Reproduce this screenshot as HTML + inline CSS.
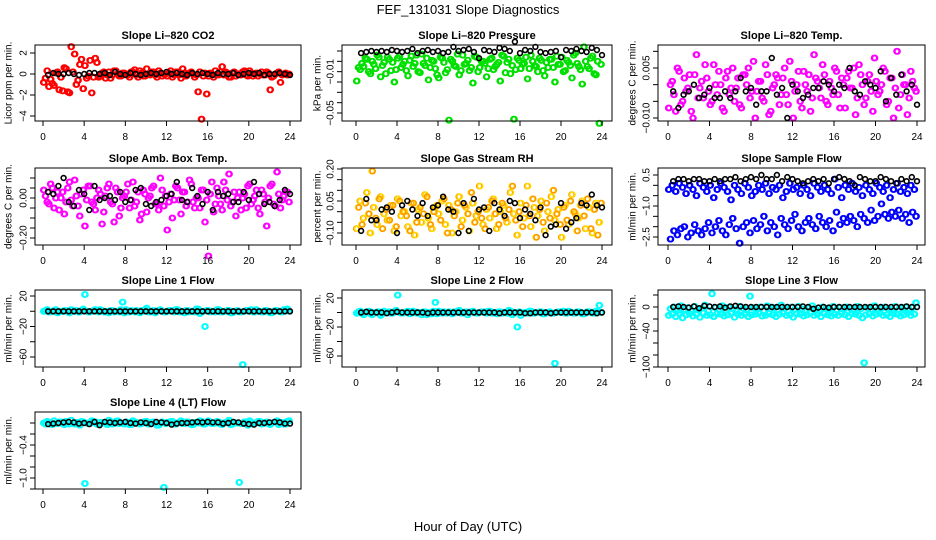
<!DOCTYPE html>
<html><head><meta charset="utf-8"><style>
body{margin:0;background:#fff}
svg{display:block;font-family:"Liberation Sans",sans-serif}
</style></head><body>
<svg id="chart" width="936" height="540" viewBox="0 0 936 540" xmlns="http://www.w3.org/2000/svg">
<rect width="936" height="540" fill="#fff"/>
<text x="468" y="14" text-anchor="middle" font-size="13">FEF_131031  Slope Diagnostics</text>
<text x="468" y="531" text-anchor="middle" font-size="13">Hour of Day (UTC)</text>
</svg>
<script>
const co2A=[-8,3,-5,-11,2,-3,6,-17,26,19,-6,14,8,-2,-18,15,-3,1,-4,2,-1,3,-2,1,0,-3,2,-1,3,-2,5,-1,2,-3,1,0,-2,3,-1,2,-4,1,0,2,-3,-17,-43,1,-2,0,3,-1,7,2,-3,1,-2,0,2,-1,3,-2,1,0,-1,2,-15,-2,1,-8,0,-1];
const co2B=[-4,-12,-9,1,-15,-16,5,-18,2,-10,9,-14,-4,13,-3,11,-2,2,-1,-4,3,0,-2,1,-1,2,4,-3,1,-2,0,2,-1,3,-2,0,1,-3,2,-1,5,-2,1,0,-1,2,-2,-19,1,-3,0,2,-1,1,-3,2,0,-1,3,-2,1,0,-2,2,-1,1,-3,0,2,-1,1,0];
const co2K=[-1,1,0,0,1,0,-1,0,1,1,0,1,-1,2,0,-1,1,0,-1,0,1,0,1,2,0,1,0,-1,1,0,1,0,-1,1,0,0,1,-1,0,1,0,1,-1,0,0,1,0,-1];
const presA=[-19,-8,-5,2,-12,-3,6,-15,-1,4,-9,-20,3,-6,0,-14,5,-2,-10,7,-4,-18,1,-7,-16,3,-11,-57,0,-5,-13,6,-2,-9,-21,4,-6,0,-15,2,-8,-3,-19,5,-1,-12,-56,3,-7,-2,-17,6,-4,-10,1,-14,-6,2,-20,-3,4,-9,-1,-16,8,-5,-22,0,-7,5,-13,-60];
const presB=[-6,-2,3,-10,0,-7,4,-4,-12,2,-1,-8,5,-3,-9,1,-5,6,-11,-2,3,-6,0,-13,4,-1,-8,2,-4,7,-9,-3,1,-6,5,-10,0,-2,-7,3,-5,-1,6,-11,2,-4,-8,1,-3,4,-7,0,-5,3,-9,-1,2,-6,5,-3,-10,1,-4,6,-2,-8,14,-5,3,-12,0,-3];
const presK=[8,9,10,9,10,9,11,10,9,10,12,8,10,11,9,10,8,9,14,10,11,12,9,3,11,10,9,13,12,10,19,8,11,10,14,9,8,9,10,4,11,10,12,10,9,13,11,6];
const ltA=[-7,1,-8,4,-5,-2,3,-10,9,-1,-4,2,-6,6,-3,0,-8,4,-1,-5,2,-7,3,5,-2,-10,1,-4,6,-9,-1,3,-6,2,-3,7,-10,0,-5,4,-2,-8,9,1,-4,3,-6,-1,5,-3,2,-7,4,-1,-9,6,0,-4,3,-8,1,-2,5,-6,2,-10,10,-3,0,-9,4,-1];
const ltB=[0,-3,5,-6,2,-1,-8,3,-4,1,6,-2,-5,0,4,-7,2,-3,5,-1,-6,3,0,-4,7,-2,1,-5,3,-8,0,2,-3,5,-6,1,-2,4,-7,0,3,-4,2,-1,6,-5,1,-3,4,-7,0,2,-1,5,-4,3,-6,1,-2,8,-3,0,4,-5,2,-1,-7,3,0,-4,1,-2];
const ltK=[-2,-7,-3,-2,0,-4,-3,-1,-4,-4,-2,-4,-2,2,-2,-1,-6,-2,-2,8,-3,-1,-10,0,-2,-4,-3,-1,-1,1,0,-2,0,-1,5,-2,-3,1,0,-1,4,-5,2,-3,3,-2,0,-6];
const ambA=[4,-2,7,-5,3,0,-8,5,-1,9,-4,2,-14,6,-2,-6,4,-13,1,7,-3,5,-9,0,3,-5,8,-2,-11,4,-7,1,6,-3,10,-4,-16,2,-1,5,-8,3,-2,7,-5,0,4,-12,-29,8,-3,1,-6,4,12,-2,-9,3,0,-5,7,-1,4,-8,2,-14,6,-3,13,-5,1,3];
const ambB=[1,-3,5,0,-6,3,-2,8,-4,1,-9,4,-1,6,-3,0,2,-7,5,-2,-12,3,-5,1,7,-1,-4,3,-8,2,0,5,-3,-6,4,1,-2,-10,6,-1,3,-4,9,-2,0,-5,4,-1,2,-7,5,-3,8,-1,-4,3,0,-6,2,6,-3,1,-5,4,-2,0,7,-4,2,-1,3,-2];
const ambK=[3,2,6,10,-2,-4,4,2,-6,6,-1,0,1,-1,3,-2,-1,4,5,-3,-4,-2,-1,1,2,8,-1,-2,5,1,-3,3,-6,3,1,2,-2,-2,3,-1,8,2,-3,-2,-4,-1,4,2];
const rhA=[-8,5,-3,9,-10,2,-6,7,-1,-4,3,-9,6,-2,0,-7,4,-11,1,-5,8,-3,-8,2,-1,5,-6,3,-10,0,7,-4,2,-9,4,-2,12,-6,1,-3,6,-8,0,3,-5,9,-1,-11,4,-3,12,-7,2,-2,5,-9,0,7,-4,1,-12,3,-6,8,-1,-3,5,-8,2,-10,4,-5];
const rhB=[2,-6,4,-1,19,-3,6,-8,1,-4,3,-7,5,0,-2,-9,4,-5,2,-1,7,-6,0,3,-4,6,-10,1,-2,4,-7,3,-1,9,-5,0,-3,-8,2,5,-1,-6,4,-3,1,12,-4,0,-7,3,-2,6,-12,1,-5,4,-3,10,-1,-6,2,-4,5,0,-9,3,-2,6,-8,1,-11,4];
const rhK=[-9,6,-4,-4,1,2,0,-10,3,5,1,-2,4,-2,2,3,7,1,0,-10,4,-9,6,1,2,-9,4,1,-2,5,4,-3,1,-1,-4,2,-11,-7,-6,4,-8,-5,-3,4,3,8,3,2];
const sfA=[-2,0,-3,1,-1,-4,0,-2,-5,1,-1,-3,0,-6,-2,1,-1,-3,-7,0,-2,-4,1,-1,-5,-3,0,-2,1,-4,-1,-2,0,-6,-3,1,-2,-1,-4,0,-2,-5,1,-1,-3,0,-2,-4,3,-1,-6,0,-2,1,-3,-1,-5,0,-2,-4,1,-1,-3,0,-6,-2,1,-3,-1,-4,0,-2];
const sfB=[-26,-22,-24,-21,-20,-25,-23,-19,-22,-24,-21,-18,-23,-20,-17,-22,-24,-19,-16,-21,-28,-20,-18,-23,-17,-21,-19,-15,-22,-18,-20,-24,-16,-19,-21,-17,-14,-20,-22,-18,-16,-19,-21,-15,-18,-20,-17,-22,-13,-19,-16,-18,-15,-17,-20,-14,-16,-18,-12,-17,-15,-9,-14,-16,-13,-15,-12,-16,-14,-18,-13,-15];
const sfK=[2,3,3,2,3,3,2,2,3,2,3,3,4,2,3,4,3,5,3,3,5,2,4,3,2,1,2,3,2,3,1,3,4,3,2,0,4,3,2,2,4,3,2,1,3,2,4,2];
const l1A=[0,2,-1,1,-2,0,1,-1,2,0,-1,1,22,-1,0,2,-1,1,0,-2,1,0,-1,12,2,-1,0,1,-2,0,4,-1,1,0,2,-1,0,1,-1,2,0,-2,1,0,-1,3,-1,-20,1,0,-1,2,-1,0,1,-2,0,-1,-70,1,0,-1,2,0,-1,1,-2,0,1,-1,2,3];
const l1B=[1,-1,0,2,-1,0,1,-2,0,1,-1,3,0,-1,1,0,2,-1,0,1,-1,0,2,-2,0,1,-1,0,1,2,-1,0,-2,1,0,-1,1,0,2,-1,0,1,-1,0,3,-3,0,1,-1,0,2,-1,0,1,-2,0,1,-1,0,1,2,-1,0,-1,1,0,-2,1,0,-1,2,0];
const l1K=[0,0,0,0,0,0,0,0,0,0,0,0,0,0,0,0,0,0,0,0,0,0,0,0,0,0,0,0,0,0,0,0,0,0,0,0,0,0,0,0,0,0,0,0,0,0,0,0];
const l2A=[-1,2,-3,1,-2,0,1,-4,2,0,-1,1,24,-1,0,2,-1,1,0,-3,1,0,-2,14,2,-1,0,1,-2,0,3,-1,1,0,2,-1,0,1,-1,2,0,-2,1,0,-1,2,-1,-20,-4,0,-1,2,-1,0,1,-2,0,-1,-70,1,0,-1,2,0,-1,1,-2,0,1,-1,2,10];
const l2B=[1,-1,0,2,-3,0,1,-2,0,1,-1,3,0,-1,1,-2,2,-1,0,1,-3,0,2,-2,0,1,-1,0,1,2,-1,0,-3,1,0,-1,1,0,2,-1,0,1,-1,0,3,-3,0,1,-1,0,2,-1,0,1,-2,0,1,-1,0,1,2,-1,0,-1,1,0,-2,1,0,-1,2,0];
const l2K=[0,1,0,0,0,-1,0,1,0,0,0,0,0,-1,0,0,0,0,0,0,0,0,0,0,0,0,0,-1,0,0,0,0,-1,-1,0,0,0,-1,0,0,0,0,0,0,0,0,-1,0];
const l3A=[-14,-12,-16,-10,-18,-13,-11,-15,-12,-17,-10,-14,-13,-16,-11,-12,-15,-13,-10,-17,-12,-14,-11,-16,-13,-12,-10,-15,-14,-11,-13,-16,-12,-10,-14,-13,-17,-11,-12,-15,-13,-10,-14,-12,-16,-11,-13,-15,-12,-14,-10,-13,-16,-11,-12,-14,-18,-13,-11,-15,-12,-10,-14,-13,-16,-11,-12,-15,-13,-10,-14,-12];
const l3B=[-3,0,-6,2,-4,-1,-7,1,-5,-2,3,-6,22,-1,-4,2,-5,0,-3,-7,1,-2,-5,18,-1,-4,0,-6,2,-3,-1,-5,3,-2,-6,0,-4,1,-3,-5,-1,2,-4,-6,0,-2,-3,1,-5,-1,-4,0,-2,-6,1,-3,-93,-1,-4,2,-5,-2,0,-3,-6,1,-4,-2,0,-5,-1,7];
const l3K=[0,1,0,-1,1,-2,2,1,0,1,-1,1,2,1,0,0,0,0,0,0,0,0,0,0,0,1,0,-3,-1,0,-1,0,0,0,0,0,0,0,0,0,0,0,0,0,0,1,0,0];
const l4A=[0,3,-2,4,-1,2,-3,1,5,-2,0,3,-110,-1,4,2,-3,1,0,5,-2,3,-1,0,2,-3,4,1,-2,0,3,-1,2,-4,0,-117,1,3,-2,0,4,-1,2,-3,1,0,3,-2,4,-1,0,2,-3,1,5,-2,0,-108,-1,2,4,-2,0,3,-1,2,-3,1,4,0,-2,3];
const l4B=[-2,1,-3,0,2,-1,3,-2,0,1,-4,2,0,-1,3,-2,1,0,-3,2,-1,4,0,-2,1,-3,2,0,-1,3,-2,1,0,-4,2,-1,0,3,-2,1,-1,2,0,-3,1,4,-2,0,1,-1,3,-2,0,2,-3,1,0,-1,2,-4,1,0,3,-2,1,-1,0,2,-3,1,-2,4];
const l4K=[-2,-1,0,1,2,1,-1,0,-2,2,-4,2,1,0,1,2,0,-1,1,0,-2,2,1,0,-3,-1,0,0,1,2,1,2,1,1,-1,0,2,1,-1,-2,-3,0,0,1,2,1,-1,-1];
const xTickLabels=["0","4","8","12","16","20","24"];

const svg=document.getElementById('chart');
const NS='http://www.w3.org/2000/svg';
const cols=[{l:35,r:301,x0:43,x24:290,yt:9},{l:342,r:612,x0:356,x24:602,yt:318},{l:658,r:925,x0:668,x24:917,yt:633}];
const rows=[{t:45,b:121},{t:168,b:245},{t:290,b:367},{t:412,b:489}];
const panels=[
 {name:'co2',title:'Slope Li\u2013820 CO2',ytitle:'Licor ppm per min.',c:0,r:0,col:'#ff0000',cal:[20,53,-40,116],ticks:[20,0,-20,-40],labels:{'20':'2','0':'0','-20':'\u22122','-40':'\u22124'},a:co2A,b:co2B,blk:co2K},
 {name:'pressure',title:'Slope Li\u2013820 Pressure',ytitle:'kPa per min.',c:1,r:0,col:'#00e000',cal:[10,51,-50,113],ticks:[10,0,-10,-20,-30,-40,-50],labels:{'-10':'\u22120.01','-50':'\u22120.05'},a:presA,b:presB,blk:presK},
 {name:'li-temp',title:'Slope Li\u2013820 Temp.',ytitle:'degrees C per min.',c:2,r:0,col:'#ff00ff',cal:[5,68,-10,118],ticks:[10,5,0,-5,-10],labels:{'5':'0.005','-10':'\u22120.010'},a:ltA,b:ltB,blk:ltK},
 {name:'amb-temp',title:'Slope Amb. Box Temp.',ytitle:'degrees C per min.',c:0,r:1,col:'#ff00ff',cal:[0,198,-20,238],ticks:[10,5,0,-5,-10,-15,-20],labels:{'0':'0.00','-20':'\u22120.20'},a:ambA,b:ambB,blk:ambK},
 {name:'gas-rh',title:'Slope Gas Stream RH',ytitle:'percent per min.',c:1,r:1,col:'#ff9900',col2:'#ffdd00',cal:[20,169,-10,233],ticks:[20,15,10,5,0,-5,-10],labels:{'20':'0.20','5':'0.05','-10':'\u22120.10'},a:rhA,b:rhB,blk:rhK},
 {name:'sample-flow',title:'Slope Sample Flow',ytitle:'ml/min per min.',c:2,r:1,col:'#0000ff',cal:[5,175,-25,237],ticks:[5,0,-5,-10,-15,-20,-25],labels:{'5':'0.5','-10':'\u22121.0','-25':'\u22122.5'},a:sfA,b:sfB,blk:sfK},
 {name:'line1-flow',title:'Slope Line 1 Flow',ytitle:'ml/min per min.',c:0,r:2,col:'#00ffff',cal:[20,296,-60,357],ticks:[20,0,-20,-40,-60],labels:{'20':'20','-20':'\u221220','-60':'\u221260'},a:l1A,b:l1B,blk:l1K},
 {name:'line2-flow',title:'Slope Line 2 Flow',ytitle:'ml/min per min.',c:1,r:2,col:'#00ffff',cal:[20,298,-60,356],ticks:[20,0,-20,-40,-60],labels:{'20':'20','-20':'\u221220','-60':'\u221260'},a:l2A,b:l2B,blk:l2K},
 {name:'line3-flow',title:'Slope Line 3 Flow',ytitle:'ml/min per min.',c:2,r:2,col:'#00ffff',cal:[0,307,-100,367],ticks:[20,0,-20,-40,-60,-80,-100],labels:{'0':'0','-40':'\u221240','-100':'\u2212100'},a:l3A,b:l3B,blk:l3K},
 {name:'line4-flow',title:'Slope Line 4 (LT) Flow',ytitle:'ml/min per min.',c:0,r:3,col:'#00ffff',cal:[0,423,-100,478],ticks:[0,-20,-40,-60,-80,-100,-120],labels:{'-40':'\u22120.4','-100':'\u22121.0'},a:l4A,b:l4B,blk:l4K}
];
function mk(tag,attrs,parent){const e=document.createElementNS(NS,tag);for(const k in attrs)e.setAttribute(k,attrs[k]);(parent||svg).appendChild(e);return e;}

panels.forEach(p=>{
 const C=cols[p.c],R=rows[p.r];
 const g=mk('g',{});
 
 
 const xs=h=>C.x0+(C.x24-C.x0)*h/24;
 const ys=v=>p.cal[1]+(v-p.cal[0])*(p.cal[3]-p.cal[1])/(p.cal[2]-p.cal[0]);
 const t=mk('text',{x:(C.l+C.r)/2,y:R.t-6,'text-anchor':'middle','font-size':'11','font-weight':'bold'},g);
 t.textContent=p.title;
 
 
 const yt=mk('text',{x:C.yt,y:(R.t+R.b)/2,'text-anchor':'middle','font-size':'10',transform:`rotate(-90 ${C.yt} ${(R.t+R.b)/2})`,'dominant-baseline':'central'},g);
 yt.textContent=p.ytitle;
 
 
 const pts=mk('g',{fill:'none','stroke-width':'1.6'},g);
 
 
 const draw=(arr,off,color,r)=>arr.forEach((v,i)=>{
   const h=(i+off)*24/arr.length;
   const c=mk('circle',{cx:xs(h).toFixed(1),cy:ys(v).toFixed(1),r:r,stroke:color},pts);
   
   
 });
 const c2=p.col2||p.col;
 draw(p.a,0.1,p.col,2.6);
 draw(p.b,0.6,c2,2.6);
 draw(p.a,0.35,c2,2.6);
 draw(p.b,0.85,p.col,2.6);
 draw(p.blk,1,'#000',2.4);
 const bx=mk('rect',{x:C.l,y:R.t,width:C.r-C.l,height:R.b-R.t,fill:'none',stroke:'#000','stroke-width':'1'},g);
 
 
 const xa=mk('g',{},g);
 
 
 xTickLabels.forEach(lbl=>{
   const x=xs(+lbl);
   mk('line',{x1:x,x2:x,y1:R.b,y2:R.b+5,stroke:'#000'},xa);
   const tx=mk('text',{x:x,y:R.b+19,'text-anchor':'middle','font-size':'10'},xa);
   tx.textContent=lbl;
   
   
 });
 const ya=mk('g',{},g);
 
 
 p.ticks.forEach(v=>{
   const y=ys(v);
   mk('line',{x1:C.l-5,x2:C.l,y1:y,y2:y,stroke:'#000'},ya);
   const lbl=p.labels[String(v)];
   if(lbl){
     const tx=mk('text',{x:C.l-11,y:y,'text-anchor':'middle','font-size':'10',transform:`rotate(-90 ${C.l-11} ${y})`,'dominant-baseline':'central'},ya);
     tx.textContent=lbl;
     
     
   }
 });
});
</script>
</body></html>
